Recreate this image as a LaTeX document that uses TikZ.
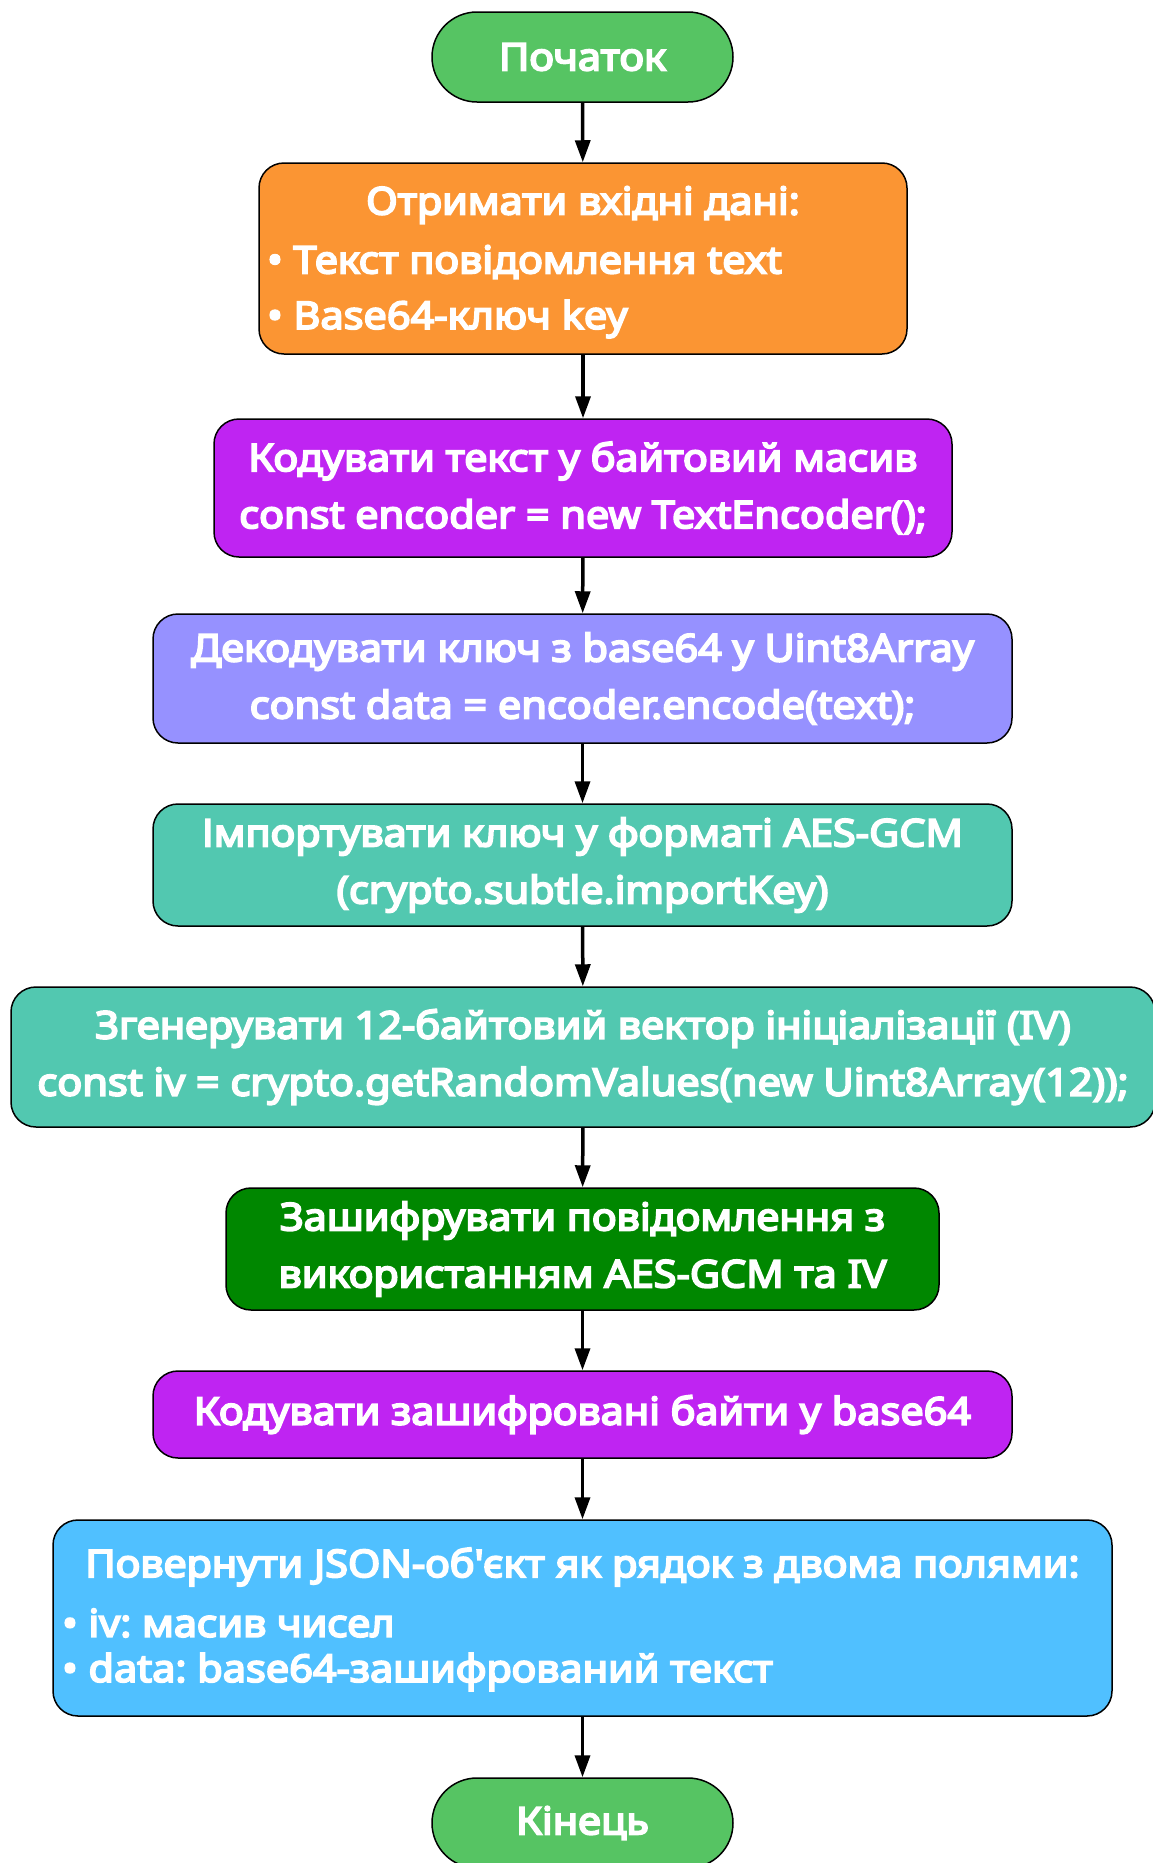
\documentclass[tikz,border=0pt]{standalone}
\usepackage{fontspec}
\setmainfont{Noto Sans}[BoldFont={Noto Sans}, BoldFeatures={FakeBold=5, FakeStretch=1.09}]
\usetikzlibrary{arrows.meta}
\frenchspacing
\definecolor{cgreen}{RGB}{86,196,99}
\definecolor{corange}{RGB}{251,149,51}
\definecolor{cpurple}{RGB}{191,36,242}
\definecolor{cperi}{RGB}{150,145,255}
\definecolor{cteal}{RGB}{82,200,176}
\definecolor{cdgreen}{RGB}{0,135,0}
\definecolor{cblue}{RGB}{80,192,255}
\begin{document}
\begin{tikzpicture}[x=1pt,y=-1pt,
  box/.style={draw=black, line width=1.5pt, rounded corners=25pt, inner sep=0pt, align=center,
    text=white, font=\fontsize{38}{57}\selectfont\bfseries\frenchspacing},
  term/.style={box, rounded corners=45pt, fill=cgreen, minimum width=301pt, minimum height=90pt},
  txt/.style={text=white, inner sep=0pt, font=\fontsize{38}{57}\selectfont\bfseries\frenchspacing},
  arr/.style={-{Triangle[length=22pt,width=15pt]}, line width=3.5pt}]
\useasboundingbox (0,0) rectangle (1152,1863);

\node[term] (start) at (582.5,57) {Початок};

\node[box, fill=corange, minimum width=648pt, minimum height=191pt] (in) at (583,258.5) {};
\node[txt] (in1) at (583,205) {Отримати вхідні дані:};
\node[txt, anchor=west] (in2) at (267,262) {• Текст повідомлення text};
\node[txt, anchor=west] (in3) at (267,319) {• Base64-ключ key};

\node[box, fill=cpurple, minimum width=738pt, minimum height=138pt] (enc) at (583,488)
  {Кодувати текст у байтовий масив\\const encoder = new TextEncoder();};

\node[box, fill=cperi, minimum width=859pt, minimum height=129pt] (dec) at (582.5,678.5)
  {Декодувати ключ з base64 у Uint8Array\\const data = encoder.encode(text);};

\node[box, fill=cteal, minimum width=859pt, minimum height=122pt] (imp) at (582.5,865)
  {Імпортувати ключ у форматі AES-GCM\\(crypto.subtle.importKey)};

\node[box, fill=cteal, minimum width=1144pt, minimum height=140pt] (iv) at (583,1057)
  {Згенерувати 12-байтовий вектор ініціалізації (IV)\\const iv = crypto.getRandomValues(new Uint8Array(12));};

\node[box, fill=cdgreen, minimum width=713pt, minimum height=122pt] (aes) at (582.5,1249)
  {Зашифрувати повідомлення з\\використанням AES-GCM та IV};

\node[box, fill=cpurple, minimum width=859pt, minimum height=87pt] (b64) at (582.5,1414.5)
  {Кодувати зашифровані байти у base64};

\node[box, fill=cblue, minimum width=1059pt, minimum height=196pt] (ret) at (582.5,1618) {};
\node[txt] (ret1) at (582.5,1567) {Повернути JSON-об\textquotesingle єкт як рядок з двома полями:};
\node[txt, anchor=west] (ret2) at (62,1623) {• iv: масив чисел};
\node[txt, anchor=west] (ret3) at (62,1672) {• data: base64-зашифрований текст};

\node[term] (end) at (582.5,1823) {Кінець};

\draw[arr] (start) -- (in);
\draw[arr] (in) -- (enc);
\draw[arr] (enc) -- (dec);
\draw[arr] (dec) -- (imp);
\draw[arr] (imp) -- (iv);
\draw[arr] (iv) -- (aes);
\draw[arr] (aes) -- (b64);
\draw[arr] (b64) -- (ret);
\draw[arr] (ret) -- (end);
\end{tikzpicture}
\end{document}
